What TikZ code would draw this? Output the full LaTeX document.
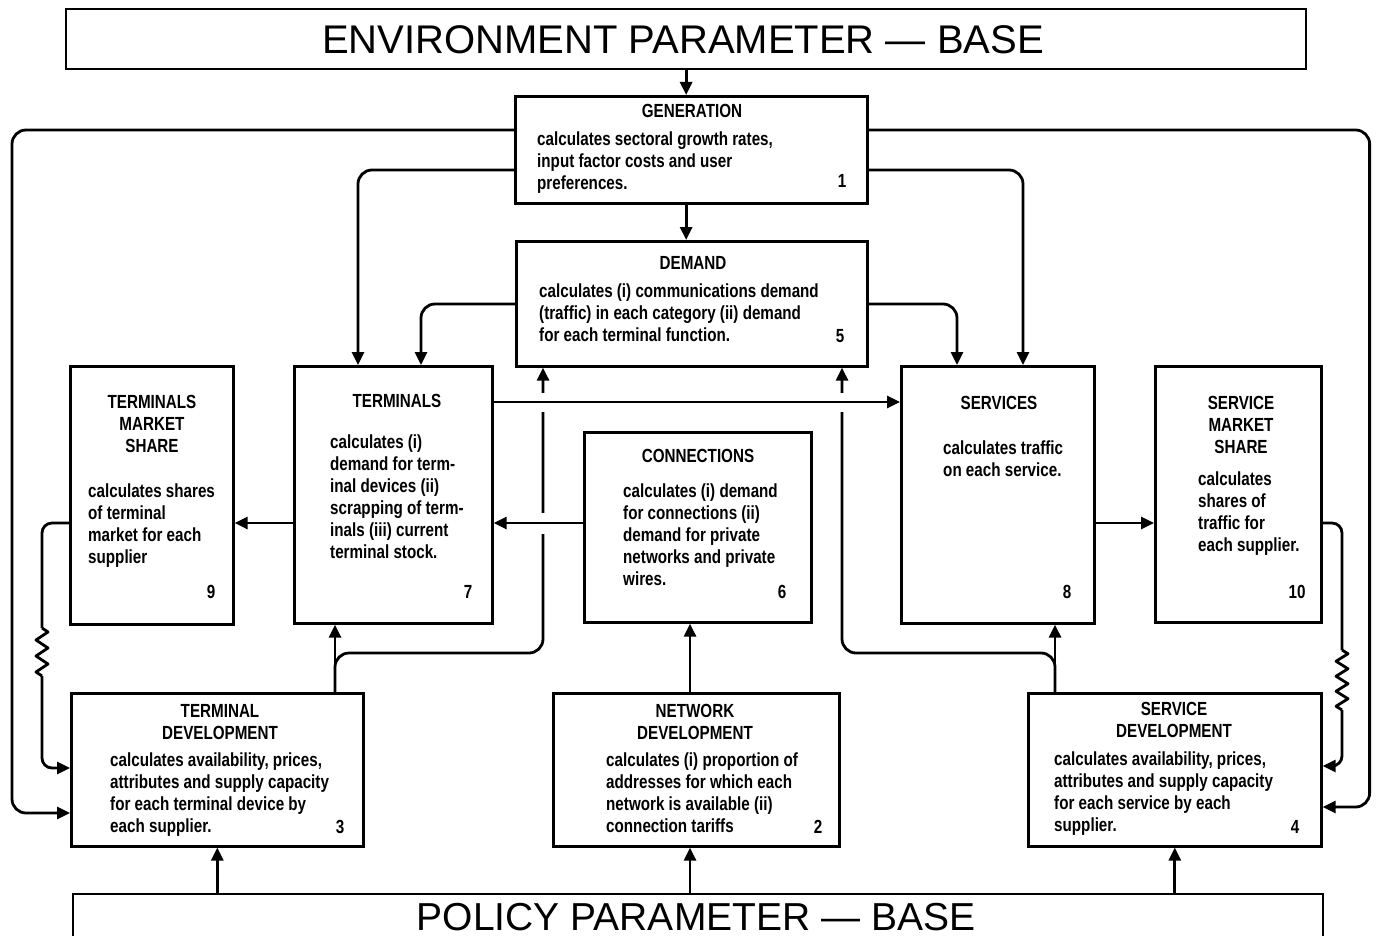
\documentclass[tikz,border=0pt]{standalone}
\usepackage{fontspec}
\usetikzlibrary{arrows.meta,calc}
\newfontfamily\bxf[FakeStretch=0.8]{Liberation Sans}
\newfontfamily\ttlf{Liberation Sans}
\newcommand\bodyfnt{\bxf\bfseries\fontsize{19}{22}\selectfont}
\begin{document}
\begin{tikzpicture}[x=1pt,y=-1pt,
  boxs/.style={draw, line width=2.6pt, anchor=north west, inner sep=0pt},
  ln/.style={line width=2.8pt},
  arr/.style={ln, -{Triangle[length=13pt,width=12pt]}},
  rc/.style={rounded corners=14pt},
  gap/.style={draw=white, line width=7pt},
  hd/.style={font=\bodyfnt, anchor=base, inner sep=0pt},
  mlc/.style={font=\bodyfnt, anchor=north, yshift=15.4pt, inner sep=0pt, align=center},
  mlb/.style={font=\bodyfnt, anchor=north west, yshift=15.4pt, inner sep=0pt, align=left},
  num/.style={font=\bodyfnt, anchor=base, inner sep=0pt},
  ttl/.style={font=\ttlf\fontsize{40}{44}\selectfont, anchor=base, inner sep=0pt}]
\fill[white] (0,0) rectangle (1380,936);
\useasboundingbox (0,0) rectangle (1380,936);

% ---- boxes ----
\node[boxs, line width=2.3pt, minimum width=1240pt, minimum height=60pt] (env) at (65,8) {};
\node[boxs, minimum width=352pt, minimum height=107pt] (gen) at (514,95) {};
\node[boxs, minimum width=351pt, minimum height=125pt] (dem) at (515,240) {};
\node[boxs, minimum width=163pt, minimum height=258pt] (tms) at (69,365) {};
\node[boxs, minimum width=198pt, minimum height=257pt] (term) at (293,365) {};
\node[boxs, minimum width=227pt, minimum height=190pt] (conn) at (583,431) {};
\node[boxs, minimum width=193pt, minimum height=257pt] (serv) at (900,365) {};
\node[boxs, minimum width=166pt, minimum height=256pt] (sms) at (1154,365) {};
\node[boxs, minimum width=292pt, minimum height=153pt] (td) at (70,692) {};
\node[boxs, minimum width=286pt, minimum height=153pt] (nd) at (552,692) {};
\node[boxs, minimum width=293pt, minimum height=153pt] (sd) at (1027,692) {};
\node[boxs, line width=2.3pt, minimum width=1250pt, minimum height=80pt] (pol) at (72,893) {};

% ---- texts ----
\node[ttl] (envt) at (683,54) {ENVIRONMENT PARAMETER — BASE};
\node[ttl, font=\ttlf\fontsize{39}{44}\selectfont] (polt) at (696,930) {POLICY PARAMETER — BASE};

\node[hd] (genh) at (692,118) {GENERATION};
\node[mlb] (genb) at (537,145) {\strut calculates sectoral growth rates,\\input factor costs and user\\preferences.};
\node[num] (genn) at (842,188) {1};

\node[hd] (demh) at (693,269) {DEMAND};
\node[mlb] (demb) at (539,297) {\strut calculates (i) communications demand\\(traffic) in each category (ii) demand\\for each terminal function.};
\node[num] (demn) at (840,342) {5};

\node[mlc] (tmsh) at (152,408) {\strut TERMINALS\\MARKET\\SHARE};
\node[mlb] (tmsb) at (88,497) {\strut calculates shares\\of terminal\\market for each\\supplier};
\node[num] (tmsn) at (211,598) {9};

\node[hd] (termh) at (397,407) {TERMINALS};
\node[mlb] (termb) at (330,448) {\strut calculates (i)\\demand for term-\\inal devices (ii)\\scrapping of term-\\inals (iii) current\\terminal stock.};
\node[num] (termn) at (468,598) {7};

\node[hd] (connh) at (698,462) {CONNECTIONS};
\node[mlb] (connb) at (623,497) {\strut calculates (i) demand\\for connections (ii)\\demand for private\\networks and private\\wires.};
\node[num] (connn) at (782,598) {6};

\node[hd] (servh) at (999,409) {SERVICES};
\node[mlb] (servb) at (943,454) {\strut calculates traffic\\on each service.};
\node[num] (servn) at (1067,598) {8};

\node[mlc] (smsh) at (1241,409) {\strut SERVICE\\MARKET\\SHARE};
\node[mlb] (smsb) at (1198,485) {\strut calculates\\shares of\\traffic for\\each supplier.};
\node[num] (smsn) at (1297,598) {10};

\node[mlc] (tdh) at (220,717) {\strut TERMINAL\\DEVELOPMENT};
\node[mlb] (tdb) at (110,766) {\strut calculates availability, prices,\\attributes and supply capacity\\for each terminal device by\\each supplier.};
\node[num] (tdn) at (340,833) {3};

\node[mlc] (ndh) at (695,717) {\strut NETWORK\\DEVELOPMENT};
\node[mlb] (ndb) at (606,766) {\strut calculates (i) proportion of\\addresses for which each\\network is available (ii)\\connection tariffs};
\node[num] (ndn) at (818,833) {2};

\node[mlc] (sdh) at (1174,715) {\strut SERVICE\\DEVELOPMENT};
\node[mlb] (sdb) at (1054,765) {\strut calculates availability, prices,\\attributes and supply capacity\\for each service by each\\supplier.};
\node[num] (sdn) at (1295,833) {4};

% ---- helper coordinates ----
\coordinate (g1) at ($(gen.north west)+(0,35)$);
\coordinate (g2) at ($(gen.north west)+(0,75)$);
\coordinate (g3) at ($(gen.north east)+(0,35)$);
\coordinate (g4) at ($(gen.north east)+(0,75)$);
\coordinate (d1) at ($(dem.north west)+(0,64)$);
\coordinate (d2) at ($(dem.north east)+(0,64)$);
\coordinate (tdA) at ($(td.north west)+(0,76)$);
\coordinate (tdB) at ($(td.north west)+(0,121)$);
\coordinate (sdA) at ($(sd.north east)+(0,74)$);
\coordinate (sdB) at ($(sd.north east)+(0,115)$);
\coordinate (lo) at ($(tdB)+(-58,0)$);
\coordinate (ro) at ($(sdB)+(47,0)$);
\coordinate (t1) at ($(term.north west)+(65,0)$);
\coordinate (t2) at ($(term.north west)+(128,0)$);
\coordinate (s1) at ($(serv.north west)+(123,0)$);
\coordinate (s2) at ($(serv.north west)+(57,0)$);
\coordinate (yA) at (0,523);
\coordinate (yB) at (0,402);
\coordinate (yC) at (0,653);
\coordinate (xT) at (335,0);
\coordinate (xD) at (543,0);
\coordinate (xE) at (842,0);
\coordinate (xS) at (1055,0);
\coordinate (xN) at (690,0);
\coordinate (wl) at (42,628);
\coordinate (wl2) at ($(wl)+(0,48)$);
\coordinate (wr) at (1342,650);
\coordinate (wr2) at ($(wr)+(0,60)$);

% ---- connectors ----
\draw[arr] (env.south) -- (env.south |- gen.north);
\draw[arr] (gen.south -| env.south) -- (dem.north -| env.south);

\draw[arr,rc] (g1) -| (lo) -- (tdB);
\draw[arr,rc] (g2) -| (t1);
\draw[arr,rc] (d1) -| (t2);
\draw[arr,rc] (g3) -| (ro) -- (sdB);
\draw[arr,rc] (g4) -| (s1);
\draw[arr,rc] (d2) -| (s2);

% wavy feedback lines
\draw[ln,rounded corners=10pt] (tms.west |- yA) -| (wl);
\draw[ln,line join=round] (wl) -- ++(6,4) -- ++(-12,8) -- ++(12,8) -- ++(-12,8) -- ++(12,8) -- ++(-12,8) -- ++(6,4);
\draw[arr,rounded corners=10pt] (wl2) |- (tdA);
\draw[ln,rounded corners=10pt] (sms.east |- yA) -| (wr);
\draw[ln,line join=round] (wr) -- ++(6,3.75) -- ++(-12,7.5) -- ++(12,7.5) -- ++(-12,7.5) -- ++(12,7.5) -- ++(-12,7.5) -- ++(12,7.5) -- ++(-12,7.5) -- ++(6,3.75);
\draw[arr,rounded corners=10pt] (wr2) |- (sdA);

% development feedback
\draw[arr] (td.north -| xT) -- (term.south -| xT);
\draw[arr,rc] (td.north -| xT) |- (xD |- yC) -- (xD |- dem.south);
\draw[arr] (sd.north -| xS) -- (serv.south -| xS);
\draw[arr,rc] (sd.north -| xS) |- (xE |- yC) -- (xE |- dem.south);
\draw[arr] (nd.north -| xN) -- (conn.south -| xN);

% policy inputs
\draw[arr] (pol.north -| td.south) -- (td.south);
\draw[arr] (pol.north -| xN) -- (nd.south -| xN);
\draw[arr] (pol.north -| sd.south) -- (sd.south);

% gaps where lines cross
\draw[gap] ($(xD |- yB)+(0,-9.5)$) -- ($(xD |- yB)+(0,9.5)$);
\draw[gap] ($(xD |- yA)+(0,-10.5)$) -- ($(xD |- yA)+(0,10.5)$);
\draw[gap] ($(xE |- yB)+(0,-9.5)$) -- ($(xE |- yB)+(0,9.5)$);

% horizontal flows
\draw[arr] (term.east |- yB) -- (serv.west |- yB);
\draw[arr] (conn.west |- yA) -- (term.east |- yA);
\draw[arr] (term.west |- yA) -- (tms.east |- yA);
\draw[arr] (serv.east |- yA) -- (sms.west |- yA);
\end{tikzpicture}
\end{document}
